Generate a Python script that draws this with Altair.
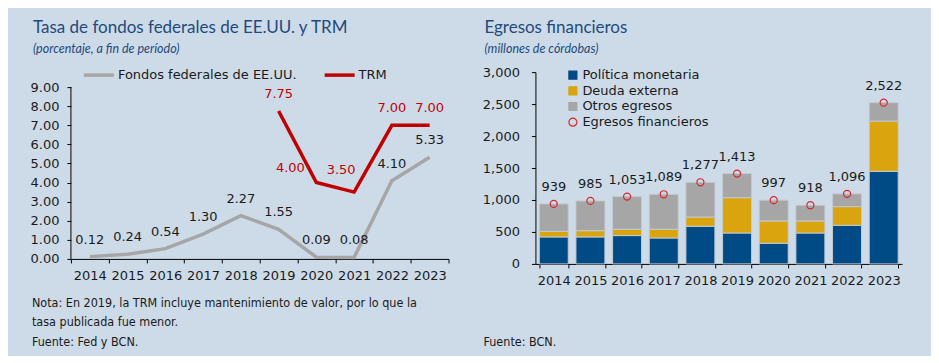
import altair as alt
import pandas as pd

# ---------------- data ----------------
years = ["2014", "2015", "2016", "2017", "2018", "2019", "2020", "2021", "2022", "2023"]
fed_funds = [0.12, 0.24, 0.54, 1.30, 2.27, 1.55, 0.09, 0.08, 4.10, 5.33]
trm_years = ["2019", "2020", "2021", "2022", "2023"]
trm = [7.75, 4.00, 3.50, 7.00, 7.00]

politica = [422, 422, 443, 406, 589, 484, 323, 484, 604, 1448]
deuda = [88, 98, 99, 136, 145, 552, 349, 188, 292, 786]
otros = [429, 465, 511, 547, 543, 377, 325, 246, 200, 288]
totales = [939, 985, 1053, 1089, 1277, 1413, 997, 918, 1096, 2522]

S_FED = "Fondos federales de EE.UU."
S_TRM = "TRM"
S_POL = "Política monetaria"
S_DEU = "Deuda externa"
S_OTR = "Otros egresos"
S_TOT = "Egresos financieros"

left_title = "Tasa de fondos federales de EE.UU. y TRM"
left_sub = "(porcentaje, a fin de período)"
right_title = "Egresos financieros"
right_sub = "(millones de córdobas)"
note_lines = ["Nota: En 2019, la TRM incluye mantenimiento de valor, por lo que la",
              "tasa publicada fue menor."]
left_source = "Fuente: Fed y BCN."
right_source = "Fuente: BCN."

# ---------------- styles ----------------
BG = "#cddbe8"
TXT = "#1a1a1a"
TITLE_C = "#1f4a7c"
FONT = "DejaVu Sans"
TFONT = "Lato"
NFONT = "DejaVu Sans Condensed"
GRAY_L = "#a6a6a6"
RED = "#c00000"
BLUE = "#004a86"
GOLD = "#d9a40e"
GRAY_B = "#a6a6a6"
CIRC = "#d9262a"

lines_df = pd.DataFrame({
    "year": years + trm_years,
    "value": fed_funds + trm,
    "serie": [S_FED] * len(years) + [S_TRM] * len(trm_years),
})
fed_df = lines_df[lines_df.serie == S_FED]
trm_df = lines_df[lines_df.serie == S_TRM]

rows = []
for i, y in enumerate(years):
    rows.append({"year": y, "value": politica[i], "serie": S_POL, "ord": 0})
    rows.append({"year": y, "value": deuda[i], "serie": S_DEU, "ord": 1})
    rows.append({"year": y, "value": otros[i], "serie": S_OTR, "ord": 2})
bars_df = pd.DataFrame(rows)
tot_df = pd.DataFrame({"year": years, "total": totales, "serie": [S_TOT] * len(years)})

# ---------------- left panel ----------------
LW, LH = 378, 187
SPACING = 87
xl = alt.X("year:N", bandPosition=0.5,
           scale=alt.Scale(type="band", domain=years, paddingInner=0, paddingOuter=0),
           axis=alt.Axis(title=None, tickBand="extent", labelAngle=0, tickSize=4,
                         labelPadding=7, domainColor="#000", tickColor="#000"))
yl_scale = alt.Scale(domain=[0, 9.785], nice=False, zero=True)
yl_axis = alt.Axis(title=None, values=list(range(0, 10)), format=".2f", domain=False,
                   tickSize=4, labelPadding=8, grid=False, tickColor="#000",
                   labelOverlap=False)
yl = alt.Y("value:Q", scale=yl_scale, axis=yl_axis)

axis_rule = alt.Chart(pd.DataFrame({"a": [0], "b": [9]})).mark_rule(color="#000", strokeWidth=1).encode(
    x=alt.value(0), y=alt.Y("a:Q", scale=yl_scale, axis=yl_axis), y2="b:Q")

line_color = alt.Color("serie:N",
                       scale=alt.Scale(domain=[S_FED, S_TRM], range=[GRAY_L, RED]),
                       legend=alt.Legend(orient="none", legendX=11, legendY=-14, direction="horizontal",
                                         title=None, symbolType="stroke", symbolSize=900,
                                         symbolStrokeWidth=3.5, labelFontSize=13, labelFont=FONT,
                                         labelColor=TXT, columnPadding=20, labelOffset=2, padding=0,
                                         labelLimit=400))

lines = alt.Chart(lines_df).mark_line(strokeWidth=3.5).encode(x=xl, y=yl, color=line_color)

fed_lbl = alt.Chart(fed_df).mark_text(dy=-17, fontSize=13, font=FONT, color=TXT).encode(
    x=xl, y=yl, text=alt.Text("value:Q", format=".2f"))

trm_lbl_a = alt.Chart(trm_df).transform_filter(
    alt.FieldOneOfPredicate(field="year", oneOf=["2019", "2022", "2023"])
).mark_text(dy=-17, fontSize=13, font=FONT, color=RED).encode(
    x=xl, y=yl, text=alt.Text("value:Q", format=".2f"))
trm_lbl_b = alt.Chart(trm_df).transform_filter(alt.datum.year == "2020").mark_text(
    dx=-26, dy=-15, fontSize=13, font=FONT, color=RED).encode(
    x=xl, y=yl, text=alt.Text("value:Q", format=".2f"))
trm_lbl_c = alt.Chart(trm_df).transform_filter(alt.datum.year == "2021").mark_text(
    dx=-13, dy=-22, fontSize=13, font=FONT, color=RED).encode(
    x=xl, y=yl, text=alt.Text("value:Q", format=".2f"))


def txt(s, x, y, font, size, color, italic=False):
    return alt.Chart(pd.DataFrame({"t": [s]})).mark_text(
        align="left", baseline="alphabetic", font=font, fontSize=size, color=color,
        fontStyle="italic" if italic else "normal").encode(
        x=alt.value(x), y=alt.value(y), text="t:N")


left_texts = [
    txt(left_title, -38, -39, TFONT, 17, TITLE_C),
    txt(left_sub, -38, -19, TFONT, 12.5, TITLE_C, italic=True),
    txt(note_lines[0], -39, 235, NFONT, 12.5, TXT),
    txt(note_lines[1], -39, 254, NFONT, 12.5, TXT),
    txt(left_source, -39, 274, NFONT, 12.5, TXT),
]

left = alt.layer(axis_rule, lines, fed_lbl, trm_lbl_a, trm_lbl_b, trm_lbl_c, *left_texts).properties(
    width=LW, height=LH)

# ---------------- right panel ----------------
RW, RH = 367, 192
xr = alt.X("year:N",
           scale=alt.Scale(type="band", domain=years, paddingInner=0.21, paddingOuter=0.105),
           axis=alt.Axis(title=None, tickBand="extent", labelAngle=0, tickSize=4,
                         labelPadding=7, domainColor="#000", tickColor="#000"))
yr_scale = alt.Scale(domain=[0, 3000], nice=False)
yr_axis = alt.Axis(title=None, values=list(range(0, 3001, 500)), format=",d", tickSize=4,
                   labelPadding=12, grid=False, domainColor="#000", tickColor="#000",
                   labelOverlap=False)

leg_dom = [S_POL, S_DEU, S_OTR, S_TOT]
leg = alt.Legend(orient="none", legendX=31, legendY=-3.5, direction="vertical", title=None,
                 symbolSize=64, symbolStrokeWidth=1.2, labelFontSize=13, labelFont=FONT,
                 labelColor=TXT, rowPadding=1.7, labelOffset=3, padding=0, labelLimit=400)
fill_scale = alt.Scale(domain=leg_dom, range=[BLUE, GOLD, GRAY_B, "transparent"])
stroke_scale = alt.Scale(domain=leg_dom, range=[BLUE, GOLD, GRAY_B, CIRC])
shape_scale = alt.Scale(domain=leg_dom, range=["square", "square", "square", "circle"])

bars = alt.Chart(bars_df).mark_bar(stroke="#c3cad1", strokeWidth=1).encode(
    x=xr,
    y=alt.Y("value:Q", stack="zero", scale=yr_scale, axis=yr_axis),
    fill=alt.Fill("serie:N", scale=fill_scale, legend=leg),
    order=alt.Order("ord:Q", sort="ascending"),
)

pts = alt.Chart(tot_df).mark_point(size=50, strokeWidth=1.2, opacity=1, filled=False).encode(
    x=xr,
    y=alt.Y("total:Q", scale=yr_scale, axis=yr_axis),
    fill=alt.Fill("serie:N", scale=fill_scale, legend=leg),
    stroke=alt.Stroke("serie:N", scale=stroke_scale, legend=leg),
    shape=alt.Shape("serie:N", scale=shape_scale, legend=leg),
)

tot_lbl = alt.Chart(tot_df).mark_text(dy=-17, fontSize=13, font=FONT, color=TXT).encode(
    x=xr, y=alt.Y("total:Q", scale=yr_scale, axis=yr_axis), text=alt.Text("total:Q", format=","))

right_texts = [
    txt(right_title, -51, -39, TFONT, 17, TITLE_C),
    txt(right_sub, -51, -19, TFONT, 12.5, TITLE_C, italic=True),
    txt(right_source, -52, 274, NFONT, 12.5, TXT),
]

right = alt.layer(bars, pts, tot_lbl, *right_texts).properties(width=RW, height=RH)

chart = alt.hconcat(left, right, spacing=SPACING, bounds="flush").resolve_scale(
    color="independent", fill="independent", stroke="independent", shape="independent"
).resolve_legend(
    color="independent", fill="independent", stroke="independent", shape="independent"
).properties(
    background=BG,
    padding={"left": 22, "top": 11, "right": 28, "bottom": 7},
).configure_view(stroke=None).configure_axis(
    labelFont=FONT, labelFontSize=13, labelColor=TXT,
).configure_concat(spacing=SPACING)

chart.save("out.html", embed_options={"renderer": "svg", "actions": False})
